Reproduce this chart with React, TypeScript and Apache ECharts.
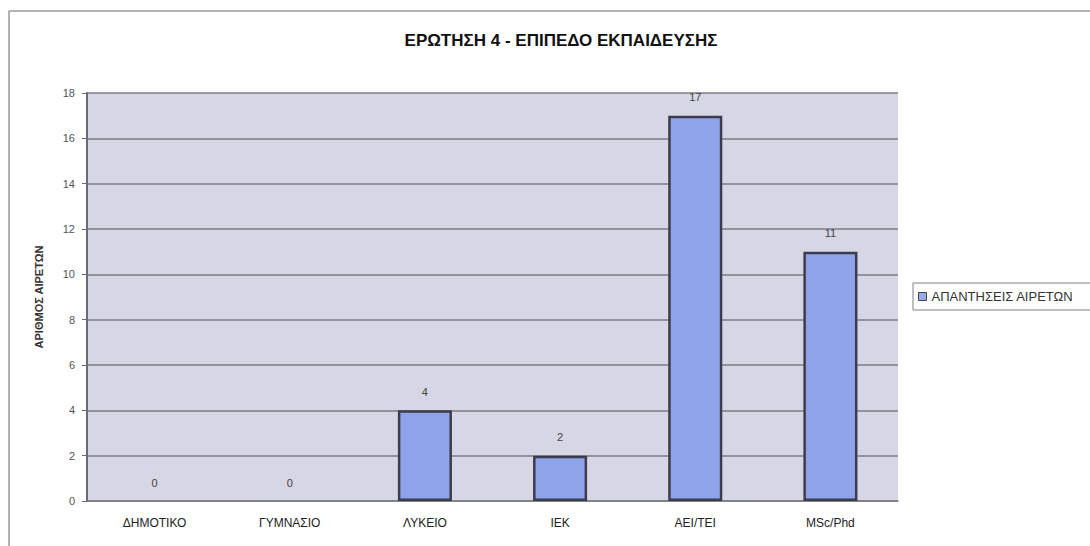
import React, { useEffect, useRef } from "react";
import * as echarts from "echarts";

const categories = ["ΔΗΜΟΤΙΚΟ", "ΓΥΜΝΑΣΙΟ", "ΛΥΚΕΙΟ", "ΙΕΚ", "ΑΕΙ/ΤΕΙ", "MSc/Phd"];
const answers = [0, 0, 4, 2, 17, 11];
const seriesName = "ΑΠΑΝΤΗΣΕΙΣ ΑΙΡΕΤΩΝ";
const chartTitle = "ΕΡΩΤΗΣΗ 4 - ΕΠΙΠΕΔΟ ΕΚΠΑΙΔΕΥΣΗΣ";
const yAxisTitle = "ΑΡΙΘΜΟΣ ΑΙΡΕΤΩΝ";

export default function App() {
  const ref = useRef<HTMLDivElement>(null);
  useEffect(() => {
    if (!ref.current) return;
    const chart = echarts.init(ref.current, undefined, { renderer: "svg" });
    const font = "'Liberation Sans', Arial, sans-serif";
    const barData = answers.map((v) =>
      v === 0 ? { value: v, itemStyle: { borderWidth: 0, color: "transparent" } } : { value: v }
    );
    chart.setOption({
      animation: false,
      backgroundColor: "#ffffff",
      textStyle: { fontFamily: font },
      title: {
        text: chartTitle,
        left: 556,
        top: 27,
        textAlign: "center",
        textStyle: { fontFamily: font, fontSize: 17, fontWeight: "bold", color: "#111" },
      },
      legend: {
        left: 913,
        top: 283,
        orient: "vertical",
        padding: [7, 60, 7, 5],
        borderColor: "#808080",
        borderWidth: 1,
        icon: "rect",
        itemWidth: 8,
        itemHeight: 8,
        itemGap: 4,
        textStyle: { fontFamily: font, fontSize: 13, color: "#333" },
        data: [{ name: seriesName, itemStyle: { color: "#9aa9e8", borderColor: "#444", borderWidth: 1 } }],
      },
      grid: {
        left: 87,
        right: 192,
        top: 93,
        bottom: 45,
        show: true,
        backgroundColor: "#d6d6e5",
        borderWidth: 0,
      },
      xAxis: {
        type: "category",
        data: categories,
        axisLine: { lineStyle: { color: "#7a7a80", width: 1.5 } },
        axisTick: { show: false },
        axisLabel: { color: "#222", fontSize: 12, margin: 16, fontFamily: font },
      },
      yAxis: {
        type: "value",
        min: 0,
        max: 18,
        interval: 2,
        name: yAxisTitle,
        nameLocation: "middle",
        nameGap: 43,
        nameRotate: 90,
        nameTextStyle: { fontFamily: font, fontSize: 11, fontWeight: "bold", color: "#333" },
        axisLine: { show: true, lineStyle: { color: "#6a6a70", width: 2 } },
        axisTick: { show: true, length: 5, lineStyle: { color: "#6a6a70" } },
        axisLabel: { color: "#555", fontSize: 11, margin: 12, fontFamily: font },
        splitLine: { show: true, lineStyle: { color: "#7c7c84", width: 1.5 } },
      },
      series: [
        {
          name: seriesName,
          type: "bar",
          data: barData,
          barWidth: "40%",
          itemStyle: { color: "#8fa3ea", borderColor: "#3c3c4c", borderWidth: 2.5 },
          label: {
            show: true,
            position: "top",
            distance: 13,
            fontSize: 11,
            color: "#444",
            fontFamily: font,
          },
        },
      ],
      graphic: [
        { type: "line", shape: { x1: 9, y1: 11, x2: 1090, y2: 11 }, style: { stroke: "#999", lineWidth: 1.5 } },
        { type: "line", shape: { x1: 9, y1: 11, x2: 9, y2: 546 }, style: { stroke: "#999", lineWidth: 1.5 } },
      ],
    });
    return () => chart.dispose();
  }, []);
  return (
    <div
      ref={ref}
      style={{ position: "absolute", left: 0, top: 0, width: 1090, height: 546 }}
    />
  );
}
